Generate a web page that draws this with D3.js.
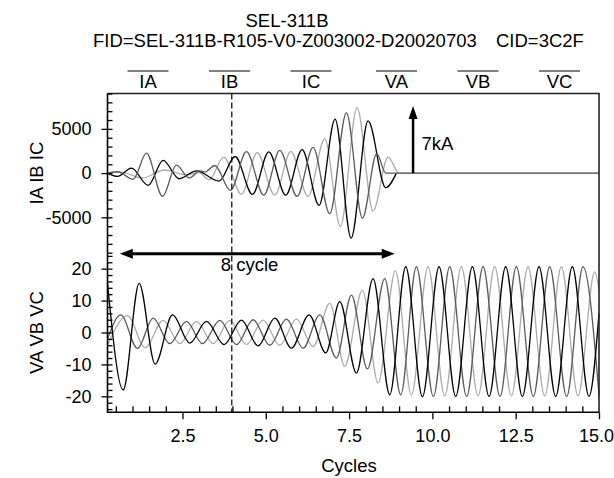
<!DOCTYPE html>
<html>
<head>
<meta charset="utf-8">
<script src="https://cdn.jsdelivr.net/npm/d3@7"></script>
<style>
body { margin: 0; background: #fff; }
text { font-family: "Liberation Sans", Arial, Helvetica, sans-serif; font-size: 18.5px; fill: #000; }
</style>
</head>
<body>
<svg id="chart" width="614" height="478"></svg>
<script>
// ---- DATA (peaks / troughs, in cycles) ----
const channels = ["IA", "IB", "IC", "VA", "VB", "VC"];

// currents, amperes: [cycle, value]
const iaPeaks = [[0.25,0],[0.55,-380],[0.97,560],[1.47,-1390],[1.92,1450],[2.4,-640],[2.92,250],[3.6,-900],
  [4.08,1875],[4.6,-2400],[5.09,2400],[5.6,-2500],[6.09,2650],[6.6,-3640],[7.08,6100],[7.56,-7350],
  [8.07,5900],[8.6,-1650],[8.92,0]];
const ibPeaks = [[0.25,0],[0.55,150],[1.02,-700],[1.42,2250],[1.9,-2620],[2.32,900],[2.7,-550],[3.02,250],
  [3.17,120],[3.47,860],[3.94,-1950],[4.42,2420],[4.94,-2500],[5.42,2560],[5.94,-2630],[6.42,2900],
  [6.92,-4600],[7.42,6800],[7.9,-5100],[8.33,2200],[8.6,0],[15,0]];
const icPeaks = [[0.25,0],[0.65,100],[1.3,-550],[1.95,350],[2.6,-200],[3.0,50],[3.3,-750],[3.74,1800],
  [4.27,-2400],[4.74,2300],[5.27,-2500],[5.75,2440],[6.27,-2630],[6.77,3860],[7.24,-6050],[7.74,7400],
  [8.22,-4300],[8.67,1800],[9.0,0],[15,0]];

// voltages: [cycle, value]
const vaPeaks = [[0.25,15.5],[0.72,-18],[1.2,15.4],[1.68,-9.9],[2.2,5.5],[2.72,-3.3],[3.22,3.5],[3.75,-3.8],
  [4.27,3.9],[4.77,-4.2],[5.27,4.5],[5.77,-4.9],[6.3,5.5],[6.8,-6.4],[7.22,9.7],[7.72,-12.7],[8.22,16.9],
  [8.72,-19.5],[9.2,20.6],[9.7,-20.1],[10.2,20.6],[10.7,-20],[11.2,20.6],[11.7,-20],[12.2,20.6],
  [12.7,-20],[13.2,20.6],[13.7,-20],[14.2,20.6],[14.7,-20],[15,6]];
const vbPeaks = [[0.25,-2],[0.65,5.5],[1.15,-5],[1.62,4.5],[2.12,-3.5],[2.62,3.5],[3.1,-3.5],[3.62,3.8],
  [4.12,-3.8],[4.62,4],[5.12,-4],[5.62,4.2],[6.12,-4.9],[6.62,5.5],[7.12,-8],[7.57,11.7],[8.05,-11.4],
  [8.57,16.9],[9.05,-19.5],[9.52,20.6],[10.03,-20],[10.52,20.6],[11.03,-20],[11.52,20.6],[12.03,-20],
  [12.52,20.6],[13.03,-20],[13.52,20.6],[14.03,-20],[14.52,20.6],[15,-19.6]];
const vcPeaks = [[0.25,-4],[0.85,5.3],[1.38,-4.8],[1.92,3.8],[2.42,-3.5],[2.92,3.5],[3.42,-3.5],[3.92,3.8],
  [4.42,-3.8],[4.92,3.9],[5.42,-4],[5.92,4.2],[6.42,-4.4],[6.92,9.1],[7.37,-10.6],[7.9,13.3],[8.37,-15.8],
  [8.89,19.3],[9.37,-19.6],[9.87,20.6],[10.37,-19.8],[10.87,20.6],[11.37,-19.8],[11.87,20.6],[12.37,-19.8],
  [12.87,20.6],[13.37,-19.8],[13.87,20.6],[14.37,-19.8],[14.87,19],[15,13.6]];

const xMajor = [2.5, 5, 7.5, 10, 12.5, 15];
const iMajor = [-5000, 0, 5000];
const vMajor = [-20, -10, 0, 10, 20];

// annotations
const triggerAt = 3.98;          // dashed line
const spanArrow = [0.62, 8.87];  // "8 cycle"
const scaleArrow = { at: 9.42, top: 7600, label: "7kA" };

// ---- LAYOUT ----
var svg = d3.select("#chart");

var x = d3.scaleLinear().domain([0.25, 15]).range([107.5, 599]);
var yI = d3.scaleLinear().domain([-9000, 9000]).range([252.7, 93.5]);
var yV = d3.scaleLinear().domain([-25, 25]).range([412.3, 252.7]);

var colors = { IA: "#000", IB: "#5a5a5a", IC: "#acacac", VA: "#000", VB: "#5a5a5a", VC: "#acacac" };

// titles
svg.append("text").attr("x", 287).attr("y", 27).attr("text-anchor", "middle").text("SEL-311B");
svg.append("text").attr("x", 93).attr("y", 47).text("FID=SEL-311B-R105-V0-Z003002-D20020703");
svg.append("text").attr("x", 496).attr("y", 47).text("CID=3C2F");

// channel legend with overlines
var leg = svg.append("g").selectAll("g").data(channels).join("g")
    .attr("transform", (d, i) => "translate(" + (148 + i * 81.5 + (i > 2 ? 4 : 0)) + ",0)");
leg.append("line").attr("x1", -20.5).attr("x2", 20.5).attr("y1", 71).attr("y2", 71)
    .attr("stroke", "#000").attr("stroke-width", 1);
leg.append("text").attr("y", 87.5).attr("text-anchor", "middle").text(d => d);

// waveforms
var line = (yScale) => d3.line()
    .x(d => x(d[0]))
    .y(d => yScale(d[1]))
    .curve(d3.curveMonotoneX);

var waves = svg.append("g").attr("fill", "none").attr("stroke-width", 1.3);
[["IC", icPeaks], ["IA", iaPeaks], ["IB", ibPeaks]].forEach(([k, pts]) => {
  waves.append("path").attr("stroke", colors[k]).attr("d", line(yI)(pts));
});
[["VC", vcPeaks], ["VB", vbPeaks], ["VA", vaPeaks]].forEach(([k, pts]) => {
  waves.append("path").attr("stroke", colors[k]).attr("d", line(yV)(pts));
});

// frame (top + right)
svg.append("path")
    .attr("d", "M" + x.range()[0] + "," + yI.range()[1] + "H" + x.range()[1] + "V" + yV.range()[0])
    .attr("fill", "none").attr("stroke", "#222").attr("stroke-width", 1.6);

// dashed trigger line
svg.append("line")
    .attr("x1", x(triggerAt)).attr("x2", x(triggerAt))
    .attr("y1", yI.range()[1]).attr("y2", yV.range()[0])
    .attr("stroke", "#000").attr("stroke-width", 1.2).attr("stroke-dasharray", "6,3");

// axes
function styleAxis(g) {
  g.attr("font-size", null).attr("font-family", null);
  g.selectAll("text").style("font-size", "18px");
  g.selectAll("line").attr("stroke", "#000").attr("stroke-width", 1.3);
}

svg.append("g").attr("transform", "translate(" + x.range()[0] + ",0)")
    .call(d3.axisLeft(yI).tickValues(iMajor).tickSize(6).tickPadding(10).tickFormat(d => String(d)))
    .call(styleAxis).call(g => g.select(".domain").remove());
svg.append("g").attr("transform", "translate(" + x.range()[0] + ",0)")
    .call(d3.axisRight(yI).tickValues(d3.range(-9000, 9001, 1000)).tickSize(5).tickFormat(""))
    .call(styleAxis).call(g => g.select(".domain").remove());

svg.append("g").attr("transform", "translate(" + x.range()[0] + ",0)")
    .call(d3.axisLeft(yV).tickValues(vMajor).tickSize(6).tickPadding(10).tickFormat(d => String(d)))
    .call(styleAxis).call(g => g.select(".domain").remove());
svg.append("g").attr("transform", "translate(" + x.range()[0] + ",0)")
    .call(d3.axisRight(yV).tickValues(d3.range(-24, 25, 2)).tickSize(5).tickFormat(""))
    .call(styleAxis).call(g => g.select(".domain").remove());

svg.append("g").attr("transform", "translate(0," + yV.range()[0] + ")")
    .call(d3.axisBottom(x).tickValues(xMajor).tickSize(7).tickPadding(10).tickFormat(d3.format(".1f")))
    .call(styleAxis).call(g => g.select(".domain").remove())
    .call(g => g.selectAll(".tick:last-child text").attr("dx", -3));
svg.append("g").attr("transform", "translate(0," + yV.range()[0] + ")")
    .call(d3.axisTop(x).tickValues(d3.range(0.5, 15.01, 0.5).filter(v => xMajor.indexOf(v) < 0)).tickSize(6).tickFormat(""))
    .call(styleAxis).call(g => g.select(".domain").remove());

// axis lines (left + bottom)
svg.append("path")
    .attr("d", "M" + x.range()[0] + "," + yI.range()[1] + "V" + yV.range()[0] + "H" + x.range()[1])
    .attr("fill", "none").attr("stroke", "#000").attr("stroke-width", 1.6);

// axis titles
svg.append("text").attr("transform", "translate(43," + yI(0) + ") rotate(-90)")
    .attr("text-anchor", "middle").text("IA IB IC");
svg.append("text").attr("transform", "translate(43," + yV(0) + ") rotate(-90)")
    .attr("text-anchor", "middle").text("VA VB VC");
svg.append("text").attr("x", 349).attr("y", 472).attr("text-anchor", "middle").text("Cycles");

// "8 cycle" double arrow
var ay = yI.range()[0] + 1, hl = 13, hw = 5;
var ax1 = x(spanArrow[0]), ax2 = x(spanArrow[1]);
svg.append("line").attr("x1", ax1 + hl - 2).attr("x2", ax2 - hl + 2).attr("y1", ay).attr("y2", ay)
    .attr("stroke", "#000").attr("stroke-width", 3);
svg.append("path").attr("d", d3.line()([[ax1, ay], [ax1 + hl, ay - hw], [ax1 + hl, ay + hw]]) + "Z");
svg.append("path").attr("d", d3.line()([[ax2, ay], [ax2 - hl, ay - hw], [ax2 - hl, ay + hw]]) + "Z");
svg.append("text").attr("x", x(triggerAt) - 11).attr("y", 271).text("8 cycle");

// "7kA" scale arrow
var sx = x(scaleArrow.at), sy0 = yI(0), sy1 = yI(scaleArrow.top);
svg.append("line").attr("x1", sx).attr("x2", sx).attr("y1", sy0).attr("y2", sy1 + hl - 2)
    .attr("stroke", "#000").attr("stroke-width", 2.5);
svg.append("path").attr("d", d3.line()([[sx, sy1], [sx - 4.5, sy1 + hl], [sx + 4.5, sy1 + hl]]) + "Z");
svg.append("text").attr("x", sx + 8.5).attr("y", 150).text(scaleArrow.label);
</script>
</body>
</html>
